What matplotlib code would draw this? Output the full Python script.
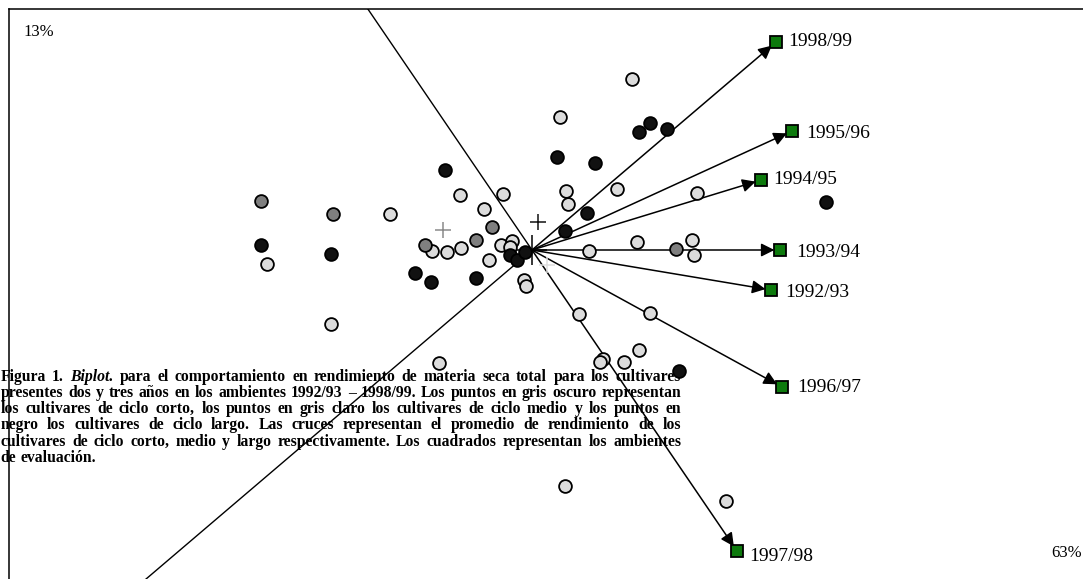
import matplotlib
matplotlib.use("Agg")
import matplotlib.pyplot as plt
import matplotlib.transforms as mtransforms

# ---------------- data (biplot scores) ----------------
# short-cycle cultivars (dark gray)
corto_x = [-2.71, -1.99, -0.40, -0.56, -1.07, 1.44]
corto_y = [0.49, 0.36, 0.23, 0.10, 0.05, 0.01]
# medium-cycle cultivars (light gray)
medio_x = [-1.42, -2.65, -2.01, -0.72, -0.29, -0.48, -1.00, -0.85, -0.71, -0.31,
           -0.20, -0.22, -0.43, -0.08, -0.06, 0.34, 0.36, 0.85, 0.57, 1.05,
           0.47, 1.00, 0.28, 1.65, 1.60, 1.62, 1.18, 1.07, 0.71, 0.68,
           0.92, 0.33, 1.94, -0.93]
medio_y = [0.36, -0.14, -0.74, 0.55, 0.56, 0.41, -0.01, -0.02, 0.02, 0.05,
           0.09, 0.03, -0.10, -0.30, -0.36, 0.59, 0.46, 0.61, -0.01, 0.08,
           -0.64, 1.71, 1.33, 0.57, 0.10, -0.05, -0.63, -1.00, -1.09, -1.12,
           -1.12, -2.36, -2.51, -1.13]
# long-cycle cultivars (black)
largo_x = [-2.71, -2.01, -0.87, -1.17, -1.01, -0.56, -0.22, -0.15, -0.07, 0.25,
           0.63, 0.55, 0.33, 1.07, 1.18, 1.35, 2.94, 1.47]
largo_y = [0.05, -0.04, 0.80, -0.23, -0.32, -0.28, -0.05, -0.10, -0.02, 0.93,
           0.87, 0.37, 0.19, 1.18, 1.27, 1.21, 0.48, -1.21]
# group means (crosses): corto, medio, largo
mean_x = [-0.89, 0.15, 0.06]
mean_y = [0.20, -0.15, 0.28]
# environments
env_labels = ["1998/99", "1995/96", "1994/95", "1993/94", "1992/93", "1996/97", "1997/98"]
env_x = [2.44, 2.60, 2.29, 2.48, 2.39, 2.50, 2.05]
env_y = [2.08, 1.19, 0.70, 0.00, -0.40, -1.37, -3.01]
axis_pct = ["13%", "63%"]

caption_lines = [
    "Figura 1. Biplot. para el comportamiento en rendimiento de materia seca total para los cultivares",
    "presentes dos y tres años en los ambientes 1992/93 – 1998/99. Los puntos en gris oscuro representan",
    "los cultivares de ciclo corto, los puntos en gris claro los cultivares de ciclo medio y los puntos en",
    "negro los cultivares de ciclo largo. Las cruces representan el promedio de rendimiento de los",
    "cultivares de ciclo corto, medio y largo respectivamente. Los cuadrados representan los ambientes",
    "de evaluación.",
]
italic_words = {(0, 2)}

# ---------------- layout ----------------
W, H = 1083, 579
fig = plt.figure(figsize=(W / 100, H / 100), dpi=100)
left_px, top_px = 8.5, 9.0
ax = fig.add_axes([left_px / W, 0, 1 - left_px / W, 1 - top_px / H])
ax.set_xlim(-5.235, 5.51)
ax.set_ylim(-3.29, 2.41)
ax.set_xticks([])
ax.set_yticks([])
ax.patch.set_alpha(0)
for s in ["right", "bottom"]:
    ax.spines[s].set_visible(False)
for s in ["left", "top"]:
    ax.spines[s].set_linewidth(1.1)
ax.set_zorder(2)

serif = "Liberation Serif"

# extension lines through origin (opposite of 1998/99 and 1997/98)
for i in (0, 6):
    ax.plot([0, -5 * env_x[i]], [0, -5 * env_y[i]], color="black", lw=1.0, zorder=2)

# arrows to environments
for ex, ey in zip(env_x, env_y):
    ax.annotate("", xy=(ex, ey), xytext=(0, 0),
                arrowprops=dict(arrowstyle="-|>", color="black", lw=1.1,
                                mutation_scale=20, shrinkA=0, shrinkB=4),
                zorder=3)

# origin cross
ax.plot([0], [0], marker="+", ms=22, mew=1.1, color="black", zorder=3)

# points
mk = dict(marker="o", ms=9.2, mew=1.3, mec="black", ls="none", zorder=4)
ax.plot(medio_x, medio_y, mfc="#dcdcdc", **mk)
ax.plot(corto_x, corto_y, mfc="#7f7f7f", **mk)
ax.plot(largo_x, largo_y, mfc="#111111", **mk)

# mean crosses
cross_cols = ["#8a8a8a", "#dedede", "#111111"]
for mx, my, c in zip(mean_x, mean_y, cross_cols):
    ax.plot([mx], [my], marker="+", ms=12, mew=1.1, color=c, zorder=4)

# environment squares
ax.plot(env_x, env_y, marker="s", ms=8.5, mfc="#0d7a0d", mec="black", mew=1.3,
        ls="none", zorder=5)
label_off = [(9, 0), (10, -2), (9, 0), (12, -2), (10, -2), (11, 0), (9, -4)]
for lab, ex, ey, (dx, dy) in zip(env_labels, env_x, env_y, label_off):
    ax.annotate(lab, (ex, ey), xytext=(dx, dy), textcoords="offset points",
                ha="left", va="center", fontsize=14, family=serif, zorder=5)

# percentage labels
pix = mtransforms.IdentityTransform()
fig.text(23, H - 32, axis_pct[0], transform=pix, fontsize=12, family=serif,
         ha="left", va="center")
fig.text(1051, H - 553, axis_pct[1], transform=pix, fontsize=12, family=serif,
         ha="left", va="center")

# justified caption (below the plot layers)
fig.canvas.draw()
renderer = fig.canvas.get_renderer()
fs = 11.3
x0, x1 = 0.5, 681.0
base0, pitch = 380.7, 16.2
tmp_a = fig.text(0, 0, "ab", fontsize=fs, fontweight="bold", family=serif, transform=pix)
tmp_b = fig.text(0, 0, "a b", fontsize=fs, fontweight="bold", family=serif, transform=pix)
space_w = tmp_b.get_window_extent(renderer).width - tmp_a.get_window_extent(renderer).width
tmp_a.remove()
tmp_b.remove()
for li, line in enumerate(caption_lines):
    words = line.split(" ")
    arts = []
    for wi, w in enumerate(words):
        style = "italic" if (li, wi) in italic_words else "normal"
        t = fig.text(0, 0, w, fontsize=fs, fontweight="bold", fontstyle=style,
                     family=serif, transform=pix, ha="left", va="baseline", zorder=0)
        arts.append(t)
    widths = [a.get_window_extent(renderer).width for a in arts]
    if li < len(caption_lines) - 1 and len(words) > 1:
        gap = max((x1 - x0 - sum(widths)) / (len(words) - 1), 0.6 * space_w)
    else:
        gap = space_w
    x = x0
    yb = H - (base0 + li * pitch)
    for a, wdt in zip(arts, widths):
        a.set_position((x, yb))
        x += wdt + gap

fig.savefig("out.png", dpi=100)
